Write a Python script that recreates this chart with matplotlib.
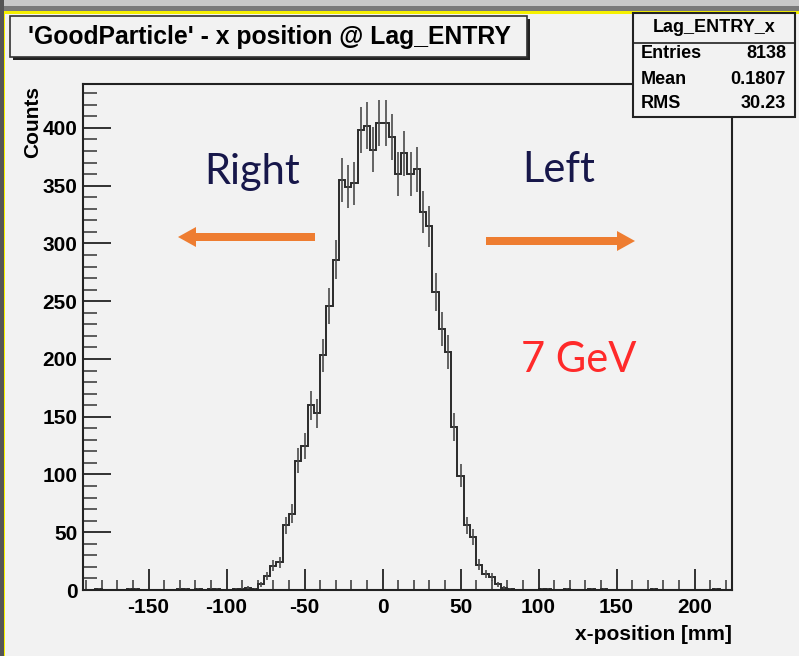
import numpy as np
import matplotlib
matplotlib.use("Agg")
import matplotlib.pyplot as plt
from matplotlib.patches import Rectangle, FancyArrow

plt.rcParams["axes.unicode_minus"] = False

# ---- data ----
x_min, x_max, n_bins = -192.0, 224.0, 104
counts = [0, 0, 1, 0, 0, 0, 0, 1, 1, 0,
          0, 0, 0, 0, 0, 1, 1, 0, 1, 0,
          1, 1, 0, 0, 1, 1, 2, 1, 5, 12,
          21, 24, 56, 66, 112, 125, 160, 153, 203, 246,
          286, 355, 349, 352, 398, 402, 381, 404, 404, 392,
          360, 378, 360, 364, 327, 315, 258, 226, 206, 141,
          99, 56, 46, 22, 14, 11, 5, 2, 1, 0,
          0, 0, 0, 1, 1, 0, 0, 1, 0, 0,
          0, 1, 0, 1, 0, 0, 0, 0, 0, 0,
          0, 1, 0, 0, 0, 0, 0, 0, 0, 0,
          0, 1, 0, 0]
x_ticks = [-150, -100, -50, 0, 50, 100, 150, 200]
y_ticks = [0, 50, 100, 150, 200, 250, 300, 350, 400]
title = "'GoodParticle' - x position @ Lag_ENTRY"
stats_name = "Lag_ENTRY_x"
stats_rows = [("Entries", "8138"), ("Mean", "0.1807"), ("RMS", "30.23")]

W, H = 799, 656
BG = "#f2f2f2"
fig = plt.figure(figsize=(W / 100, H / 100), dpi=100, facecolor=BG)

def fx(px):
    return px / W

def fy(py):
    return 1 - py / H

# frame decoration (screenshot border)
fig.patches.append(Rectangle((0, fy(6)), 1, 6 / H, transform=fig.transFigure,
                             facecolor="#c8c8c8", edgecolor="none", zorder=0))
fig.patches.append(Rectangle((0, fy(11)), 1, 5 / H, transform=fig.transFigure,
                             facecolor="#7a7a7a", edgecolor="none", zorder=0))
fig.patches.append(Rectangle((0, fy(14)), 1, 3 / H, transform=fig.transFigure,
                             facecolor="#f5f000", edgecolor="none", zorder=0))
fig.patches.append(Rectangle((0, 0), 3.5 / W, 1, transform=fig.transFigure,
                             facecolor="#555555", edgecolor="none", zorder=0))
fig.patches.append(Rectangle((3.5 / W, 0), 1.5 / W, fy(14), transform=fig.transFigure,
                             facecolor="#f5f000", edgecolor="none", zorder=0))

# axes
L, R, T, B = 83, 732, 84, 590
ax = fig.add_axes([fx(L), fy(B), fx(R) - fx(L), fy(T) - fy(B)], facecolor=BG)
edges = np.linspace(x_min, x_max, n_bins + 1)
centers = 0.5 * (edges[:-1] + edges[1:])
c = np.array(counts, dtype=float)
ax.stairs(c, edges, color="#2a2a2a", lw=1.4, baseline=None)
ax.errorbar(centers, c, yerr=np.sqrt(c), fmt="none", ecolor="#4a4a4a", elinewidth=1.2)
ax.set_xlim(x_min, x_max)
ax.set_ylim(0, 438)

ax.set_xticks(x_ticks)
ax.set_yticks(y_ticks)
ax.set_xticks(np.arange(-190, 224, 10), minor=True)
ax.set_yticks(np.arange(0, 438, 10), minor=True)
ax.tick_params(axis="x", which="major", direction="in", length=15, width=1.3, colors="#222222",
               labelsize=15, pad=6, top=False)
ax.tick_params(axis="x", which="minor", direction="in", length=7, width=1.1, colors="#333333", top=False)
ax.tick_params(axis="y", which="major", direction="in", length=20, width=1.3, colors="#222222",
               labelsize=15, pad=4, right=False)
ax.tick_params(axis="y", which="minor", direction="in", length=10, width=1.1, colors="#333333", right=False)
for lab in ax.get_xticklabels() + ax.get_yticklabels():
    lab.set_fontweight("bold")
    lab.set_family("Liberation Sans")
    lab.set_color("black")
for s in ax.spines.values():
    s.set_color("#222222")
    s.set_linewidth(1.5)

fig.text(fx(732), fy(635), "x-position [mm]", ha="right", va="center", fontsize=15,
         fontweight="bold", family="Liberation Sans")
fig.text(fx(33), fy(86), "Counts", ha="center", va="top", rotation=90, fontsize=15,
         fontweight="bold", family="Liberation Sans")

# title box
fig.patches.append(Rectangle((fx(13), fy(60)), fx(527) - fx(10), (57 - 16) / H,
                             transform=fig.transFigure, facecolor="#222222", edgecolor="none", zorder=2))
fig.patches.append(Rectangle((fx(10), fy(57)), fx(527) - fx(10), (57 - 16) / H,
                             transform=fig.transFigure, facecolor=BG, edgecolor="#333333",
                             lw=1.2, zorder=3))
fig.text(fx(28), fy(37), title, ha="left", va="center", fontsize=17.8, fontweight="bold",
         family="Liberation Sans", zorder=4)

# stats box
sx0, sx1, sy0, sy1 = 633, 795, 13, 117
fig.patches.append(Rectangle((fx(sx0), fy(sy1)), fx(sx1) - fx(sx0), (sy1 - sy0) / H,
                             transform=fig.transFigure, facecolor=BG, edgecolor="#222222",
                             lw=1.5, zorder=3))
fig.lines.append(plt.Line2D([fx(sx0), fx(sx1)], [fy(43), fy(43)], transform=fig.transFigure,
                            color="#222222", lw=1.2, zorder=4))
fig.text(fx((sx0 + sx1) / 2), fy(28), stats_name, ha="center", va="center", fontsize=13,
         fontweight="bold", family="Liberation Sans", zorder=4)
for i, (k, v) in enumerate(stats_rows):
    yy = 54 + i * 25
    fig.text(fx(641), fy(yy), k, ha="left", va="center", fontsize=13, fontweight="bold",
             family="Liberation Sans", zorder=4)
    fig.text(fx(786), fy(yy), v, ha="right", va="center", fontsize=13, fontweight="bold",
             family="Liberation Sans", zorder=4)

# annotations
fig.text(fx(252), fy(172), "Right", ha="center", va="center", fontsize=30,
         color="#17174a", family="Lato")
fig.text(fx(559), fy(170), "Left", ha="center", va="center", fontsize=30,
         color="#17174a", family="Lato")
fig.text(fx(579), fy(360), "7 GeV", ha="center", va="center", fontsize=30,
         color="#ff2a2a", family="Lato")
orange = "#ee7d31"
fig.patches.append(FancyArrow(fx(315), fy(237), fx(178) - fx(315), 0, width=8 / H,
                              head_width=20 / H, head_length=18 / W, length_includes_head=True,
                              transform=fig.transFigure, color=orange, lw=0, zorder=5))
fig.patches.append(FancyArrow(fx(486), fy(241), fx(635) - fx(486), 0, width=8 / H,
                              head_width=20 / H, head_length=18 / W, length_includes_head=True,
                              transform=fig.transFigure, color=orange, lw=0, zorder=5))

fig.savefig("out.png", dpi=100, facecolor=BG)
